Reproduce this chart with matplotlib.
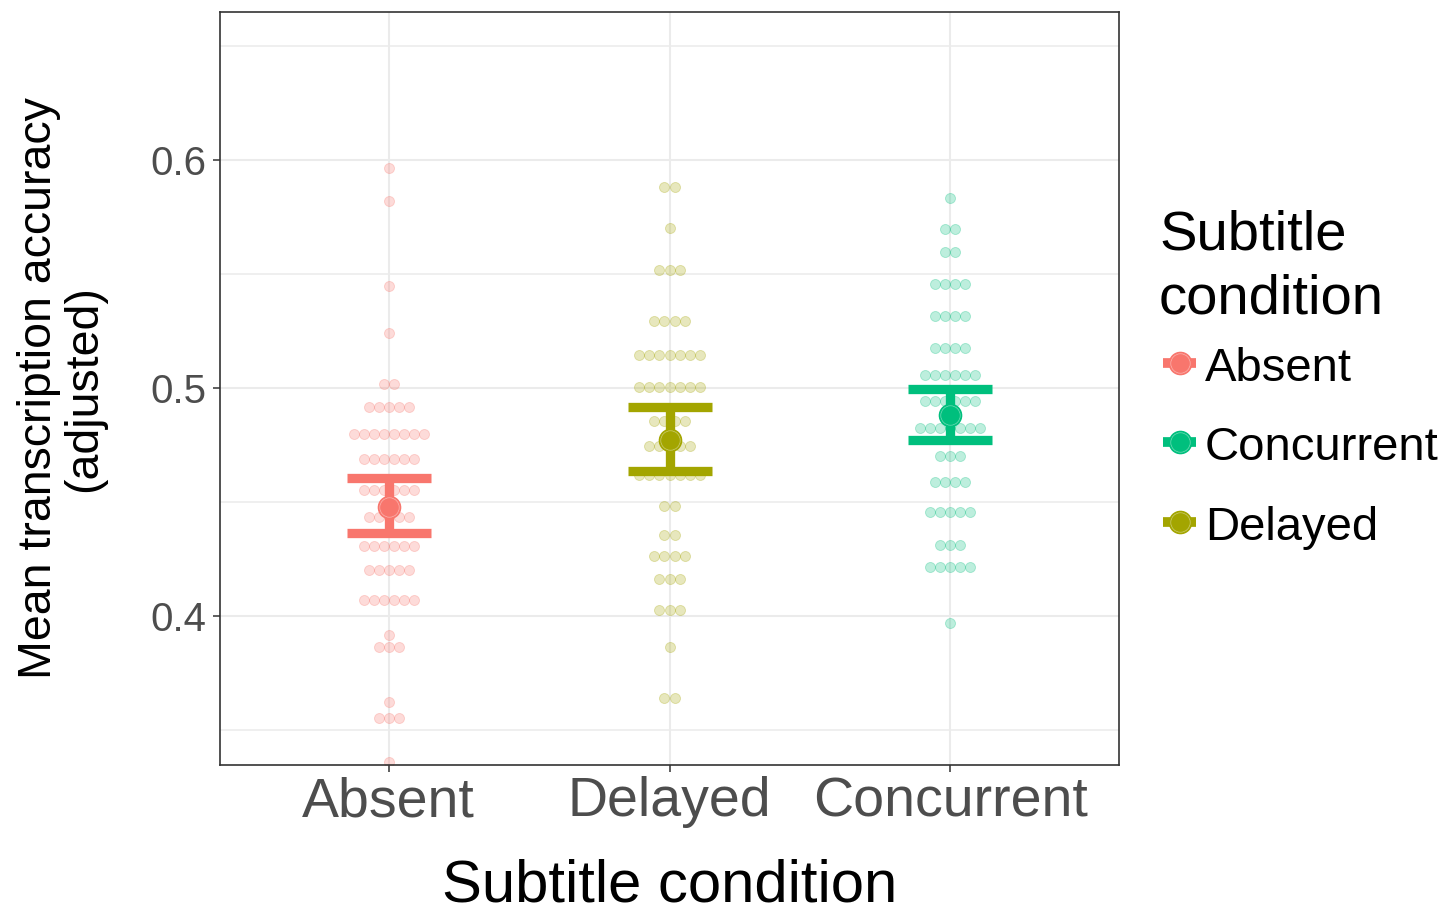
import matplotlib
matplotlib.use("Agg")
import matplotlib.pyplot as plt
import numpy as np
from matplotlib.lines import Line2D

plt.rcParams['font.family'] = ['Liberation Sans', 'DejaVu Sans']

# ---------------- data ----------------
categories = ["Absent", "Delayed", "Concurrent"]
legend_order = ["Absent", "Concurrent", "Delayed"]
colors = {"Absent": "#F8766D", "Delayed": "#A3A500", "Concurrent": "#00BF7D"}

# dot-plot rows: y value of each stacked row and number of dots in it
absent_row_values = [0.5965, 0.5820, 0.5449, 0.5243, 0.5016, 0.4917, 0.4800, 0.4687,
                     0.4553, 0.4436, 0.4308, 0.4202, 0.4070, 0.3917, 0.3864, 0.3623,
                     0.3553, 0.3361]
absent_row_counts = [1, 1, 1, 1, 2, 5, 8, 6, 6, 5, 6, 5, 6, 1, 3, 1, 3, 1]

delayed_row_values = [0.5880, 0.5702, 0.5518, 0.5295, 0.5145, 0.5003, 0.4857, 0.4747,
                      0.4618, 0.4484, 0.4354, 0.4263, 0.4161, 0.4025, 0.3863, 0.3639]
delayed_row_counts = [2, 1, 3, 4, 7, 7, 4, 5, 7, 2, 2, 4, 3, 3, 1, 2]

concurrent_row_values = [0.5836, 0.5696, 0.5598, 0.5456, 0.5316, 0.5174, 0.5057, 0.4944,
                         0.4823, 0.4702, 0.4586, 0.4457, 0.4311, 0.4214, 0.3968]
concurrent_row_counts = [1, 2, 2, 4, 4, 4, 6, 6, 7, 3, 4, 5, 3, 5, 1]

means = [0.4478, 0.4772, 0.4882]
ci_low = [0.4363, 0.4636, 0.4772]
ci_high = [0.4607, 0.4915, 0.4996]

y_major = [0.4, 0.5, 0.6]
y_minor = [0.35, 0.45, 0.55, 0.65]
y_tick_labels = ["0.4", "0.5", "0.6"]

rows = {
    "Absent": (absent_row_values, absent_row_counts),
    "Delayed": (delayed_row_values, delayed_row_counts),
    "Concurrent": (concurrent_row_values, concurrent_row_counts),
}

# ---------------- figure ----------------
W, H = 1453, 911
fig = plt.figure(figsize=(W / 100, H / 100), dpi=100)
ax = fig.add_axes([220 / W, 1 - 765 / H, (1119 - 220) / W, (765 - 12) / H])

ax.set_xlim(0.4, 3.6)
ax.set_ylim(0.3346, 0.665)

grid_c = "#EBEBEB"
ax.set_yticks(y_major)
ax.set_yticklabels(y_tick_labels)
ax.set_yticks(y_minor, minor=True)
ax.set_xticks([1, 2, 3])
ax.set_xticklabels(categories)
ax.grid(which="major", color=grid_c, linewidth=1.5, zorder=0)
ax.grid(which="minor", axis="y", color=grid_c, linewidth=1.1, zorder=0)
ax.set_axisbelow(True)

ax.tick_params(which="major", length=5, width=1.1, color="#333333", pad=5)
ax.tick_params(which="minor", length=0)
ax.tick_params(axis="y", labelsize=29, labelcolor="#4D4D4D")
ax.tick_params(axis="x", labelsize=40, labelcolor="#4D4D4D", pad=3)
for sp in ax.spines.values():
    sp.set_color("#333333")
    sp.set_linewidth(1.2)

dot_step = 0.0356
for i, cat in enumerate(categories):
    xc = i + 1
    vals, cnts = rows[cat]
    xs, ys = [], []
    for v, n in zip(vals, cnts):
        offs = (np.arange(n) - (n - 1) / 2) * dot_step
        xs.extend(xc + offs)
        ys.extend([v] * n)
    c = matplotlib.colors.to_rgba(colors[cat])
    ax.scatter(xs, ys, s=52, facecolor=(c[0], c[1], c[2], 0.26),
               edgecolor=(c[0], c[1], c[2], 0.28), linewidth=0.7, zorder=2)

for i, cat in enumerate(categories):
    xc = i + 1
    c = colors[cat]
    m = means[i]
    ax.errorbar([xc], [m], yerr=[[m - ci_low[i]], [ci_high[i] - m]], fmt="none",
                ecolor=c, elinewidth=6.7, capsize=30, capthick=6.7, zorder=3)
    ax.plot([xc], [m], "o", ms=16, mfc=c, mec=c, mew=1, zorder=4)
    ax.plot([xc], [m], "o", ms=14, mfc="none", mec="white", mew=0.5, alpha=0.45, zorder=5)

ax.set_xlabel("Subtitle condition", fontsize=43, color="black", labelpad=22)
ax.set_ylabel("Mean transcription accuracy\n(adjusted)", fontsize=33.5, color="black",
              linespacing=1.03, labelpad=32)

# ---------------- legend (manual) ----------------
def fx(x):
    return x / W

def fy(y):
    return 1 - y / H

fig.text(fx(1159), fy(250), "Subtitle", fontsize=40.5, va="baseline", ha="left")
fig.text(fx(1159), fy(314), "condition", fontsize=40.5, va="baseline", ha="left")
key_y = [363, 442, 522]
lab_base = [381, 460, 540]
for cat, ky, lb in zip(legend_order, key_y, lab_base):
    c = colors[cat]
    fig.add_artist(Line2D([fx(1163), fx(1196)], [fy(ky), fy(ky)], color=c, linewidth=7,
                          solid_capstyle="butt"))
    fig.add_artist(Line2D([fx(1180)], [fy(ky)], marker="o", ms=16, mfc=c, mec=c, mew=1))
    fig.add_artist(Line2D([fx(1180)], [fy(ky)], marker="o", ms=14, mfc="none", mec="white",
                          mew=0.5, alpha=0.45))
    fig.text(fx(1205), fy(lb), cat, fontsize=34, va="baseline", ha="left")

fig.savefig("out.png", dpi=100)
